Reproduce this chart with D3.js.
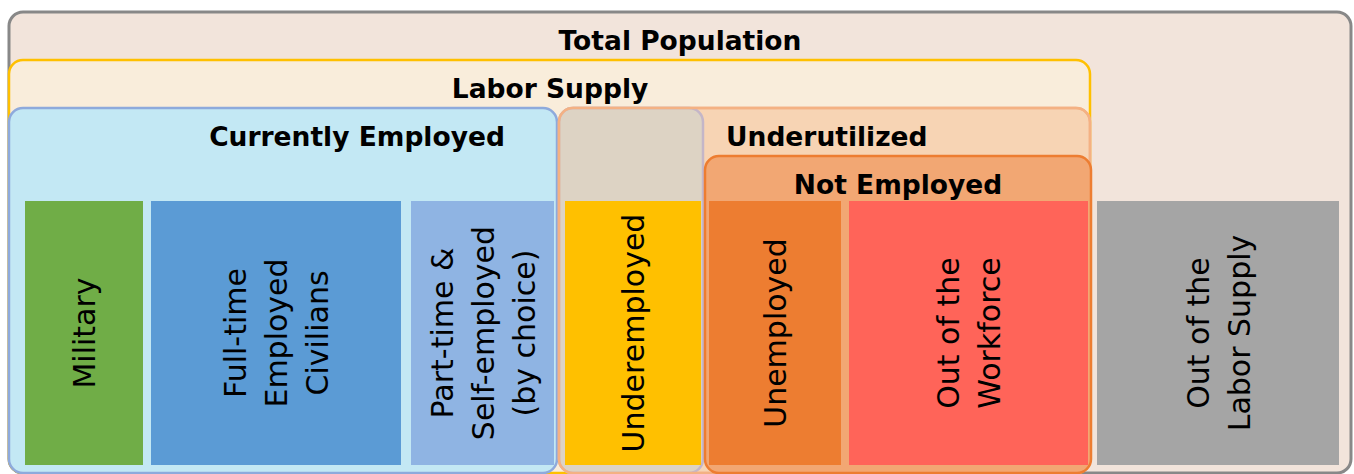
<!DOCTYPE html>
<meta charset="utf-8">
<style>
  body { margin: 0; background: #fff; }
  svg text { font-family: "DejaVu Sans", sans-serif; fill: #000; }
  .group-title { font-weight: bold; font-size: 26.5px; }
  .leaf-label { font-size: 30px; }
</style>
<script src="https://d3js.org/d3.v7.min.js"></script>
<div id="my_dataviz"></div>
<script>

// leaf categories (bottom row), their span along the diagram axis and fill
var leafNames = [["Military"], ["Full-time", "Employed", "Civilians"], ["Part-time &", "Self-employed", "(by choice)"],
  ["Underemployed"], ["Unemployed"], ["Out of the", "Workforce"], ["Out of the", "Labor Supply"]];
var leafStart = [25, 151, 411, 565, 709, 849, 1097];
var leafEnd   = [143, 401, 554, 701, 841, 1088, 1339];
var leafColors = ["#70ad47", "#5b9bd5", "#8fb4e3", "#ffc000", "#ed7d31", "#ff6459", "#a5a5a5"];

// grouping boxes, in drawing order (outermost first)
// the Underutilized outline is drawn again over the Underemployed box
var groupNames  = ["Total Population", "Labor Supply", "Currently Employed", "Underutilized", "", "", "Not Employed"];
var groupStart  = [8, 8, 8, 558, 558, 558, 704];
var groupEnd    = [1352, 1091, 558, 1091, 704, 1091, 1092];
var groupLevel  = [0, 1, 2, 2, 2, 2, 3];
var groupFill   = ["#f2e4db", "#f9eddb", "#c3e8f4", "#f7d4b4", "#ddd3c4", "none", "#f2a773"];
var groupStroke = ["#888888", "#ffc000", "#8eaadc", "#f4b183", "#c4b6c8", "#f4b183", "#ed7d31"];
var groupAnchor = ["middle", "middle", "middle", "start", "middle", "middle", "middle"];
var groupTextX  = [680, 550, 357, 726, 631, 631, 898];

var width = 1354, height = 474;

var svg = d3.select("#my_dataviz")
  .append("svg")
    .attr("width", width)
    .attr("height", height);

// x: one unit per pixel along the diagram, y: nesting level -> top edge
var x = d3.scaleLinear().domain([0, width]).range([0, width]);
var y = d3.scaleLinear().domain([0, 3]).range([11, 155]);
var leafTop = 201, leafBottom = 465, boxBottom = 473;

// group boxes
svg.selectAll(".group")
  .data(groupNames.map(function(d, i) { return i; }))
  .enter()
  .append("rect")
    .attr("class", "group")
    .attr("x", function(i) { return x(groupStart[i]) + 1; })
    .attr("y", function(i) { return y(groupLevel[i]) + 1; })
    .attr("width", function(i) { return x(groupEnd[i]) - x(groupStart[i]) - 2; })
    .attr("height", function(i) { return boxBottom - y(groupLevel[i]) - 1; })
    .attr("rx", 14)
    .attr("ry", 14)
    .style("fill", function(i) { return groupFill[i]; })
    .style("stroke", function(i) { return groupStroke[i]; })
    .style("stroke-width", function(i) { return i == 0 ? 3 : 2.5; });

svg.selectAll(".group-title")
  .data(groupNames.map(function(d, i) { return i; }).filter(function(i) { return groupNames[i] != ""; }))
  .enter()
  .append("text")
    .attr("class", "group-title")
    .attr("x", function(i) { return groupTextX[i]; })
    .attr("y", function(i) { return y(groupLevel[i]) + 39; })
    .attr("text-anchor", function(i) { return groupAnchor[i]; })
    .text(function(i) { return groupNames[i]; });

// leaf bars
var leaves = svg.selectAll(".leaf")
  .data(leafNames.map(function(d, i) { return i; }))
  .enter()
  .append("g")
    .attr("class", "leaf");

leaves.append("rect")
  .attr("x", function(i) { return x(leafStart[i]); })
  .attr("y", leafTop)
  .attr("width", function(i) { return x(leafEnd[i]) - x(leafStart[i]); })
  .attr("height", leafBottom - leafTop)
  .style("fill", function(i) { return leafColors[i]; });

var lineH = 41;
leaves.append("text")
  .attr("class", "leaf-label")
  .attr("text-anchor", "middle")
  .attr("transform", function(i) {
    var cx = (x(leafStart[i]) + x(leafEnd[i])) / 2;
    var cy = (leafTop + leafBottom) / 2;
    return "translate(" + cx + "," + cy + ") rotate(-90)";
  })
  .each(function(i) {
    var lines = leafNames[i];
    var t = d3.select(this);
    lines.forEach(function(l, k) {
      t.append("tspan")
        .attr("x", 0)
        .attr("y", (k - (lines.length - 1) / 2) * lineH + 11)
        .text(l);
    });
  });

</script>
